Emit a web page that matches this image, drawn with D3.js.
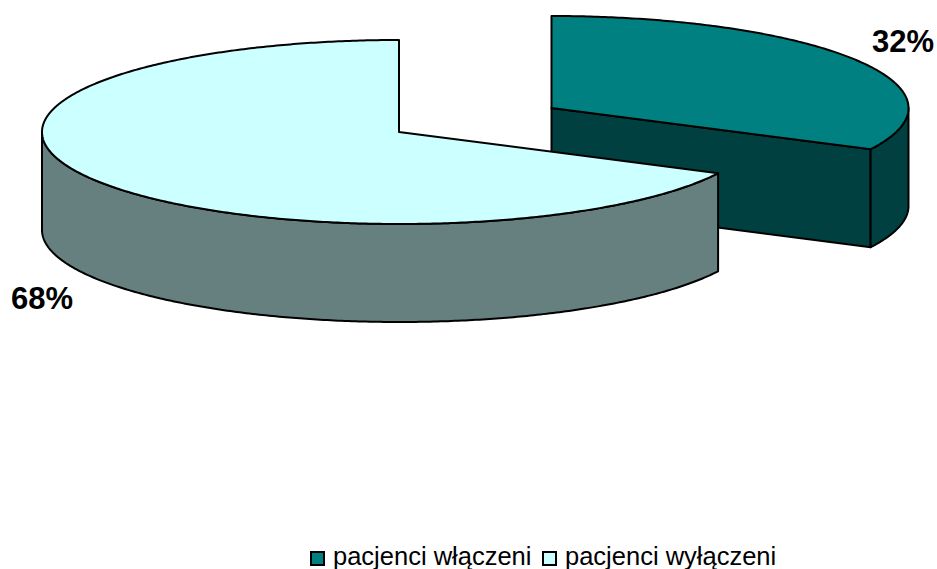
<!DOCTYPE html>
<html>
<head>
<meta charset="utf-8">
<script src="https://cdn.jsdelivr.net/npm/d3@7"></script>
<style>
  html, body { margin: 0; padding: 0; background: #fff; }
  svg { display: block; }
  text { font-family: "Liberation Sans", Arial, sans-serif; fill: #000; }
</style>
</head>
<body>
<svg id="chart" width="937" height="569"></svg>
<script>
var categories = ["pacjenci włączeni", "pacjenci wyłączeni"];
var values = [32.4, 67.6];
var labels = ["32%", "68%"];
var topColors = ["#008080", "#ccffff"];
var sideColors = ["#004040", "#668080"];

var svg = d3.select("#chart"),
  RX = 357,
  RY = 92,
  DEPTH = 98,
  slices = d3.pie().sort(null)(values);

// the slices sit apart, each one with its own centre
var centres = [{ x: 551.5, y: 108 }, { x: 399, y: 132 }];
var labelPos = [{ x: 872, y: 52 }, { x: 11, y: 309 }];

var line = d3.line();

function rimPoint(c, a, dy) {
  return [c.x + RX * Math.sin(a), c.y + dy - RY * Math.cos(a)];
}

function rim(c, a0, a1, dy) {
  var n = Math.ceil(Math.abs(a1 - a0) / 0.01);
  return d3.range(n + 1).map(function(i) {
    return rimPoint(c, a0 + (a1 - a0) * i / n, dy);
  });
}

function drawShape(points, fill) {
  svg.append("path")
    .attr("d", line(points) + "Z")
    .attr("fill", fill)
    .attr("stroke", "#000")
    .attr("stroke-width", 2)
    .attr("stroke-linejoin", "round");
}

slices.forEach(function(s, i) {
  var c = centres[i], centre = [c.x, c.y];

  if (i === 0) {
    // cut face of the small slice and its short outer wall
    var p = rimPoint(c, s.endAngle, 0);
    drawShape([centre, p, [p[0], p[1] + DEPTH], [c.x, c.y + DEPTH]], sideColors[i]);
    var w = rim(c, Math.PI / 2, s.endAngle, 0);
    drawShape(w.concat(rim(c, s.endAngle, Math.PI / 2, DEPTH)), sideColors[i]);
  } else {
    // front wall of the large slice, up to the left edge
    var w2 = rim(c, s.startAngle, Math.PI * 1.5, 0);
    drawShape(w2.concat(rim(c, Math.PI * 1.5, s.startAngle, DEPTH)), sideColors[i]);
  }

  drawShape([centre].concat(rim(c, s.startAngle, s.endAngle, 0)), topColors[i]);

  svg.append("text")
    .attr("x", labelPos[i].x)
    .attr("y", labelPos[i].y)
    .attr("font-size", 31)
    .attr("font-weight", "bold")
    .text(labels[i]);
});

// legend
var legendX = [311, 543];
categories.forEach(function(name, i) {
  svg.append("rect")
    .attr("x", legendX[i])
    .attr("y", 552)
    .attr("width", 13)
    .attr("height", 13)
    .attr("fill", topColors[i])
    .attr("stroke", "#000")
    .attr("stroke-width", 2);
  svg.append("text")
    .attr("x", legendX[i] + 22)
    .attr("y", 565)
    .attr("font-size", 25.5)
    .text(name);
});
</script>
</body>
</html>
